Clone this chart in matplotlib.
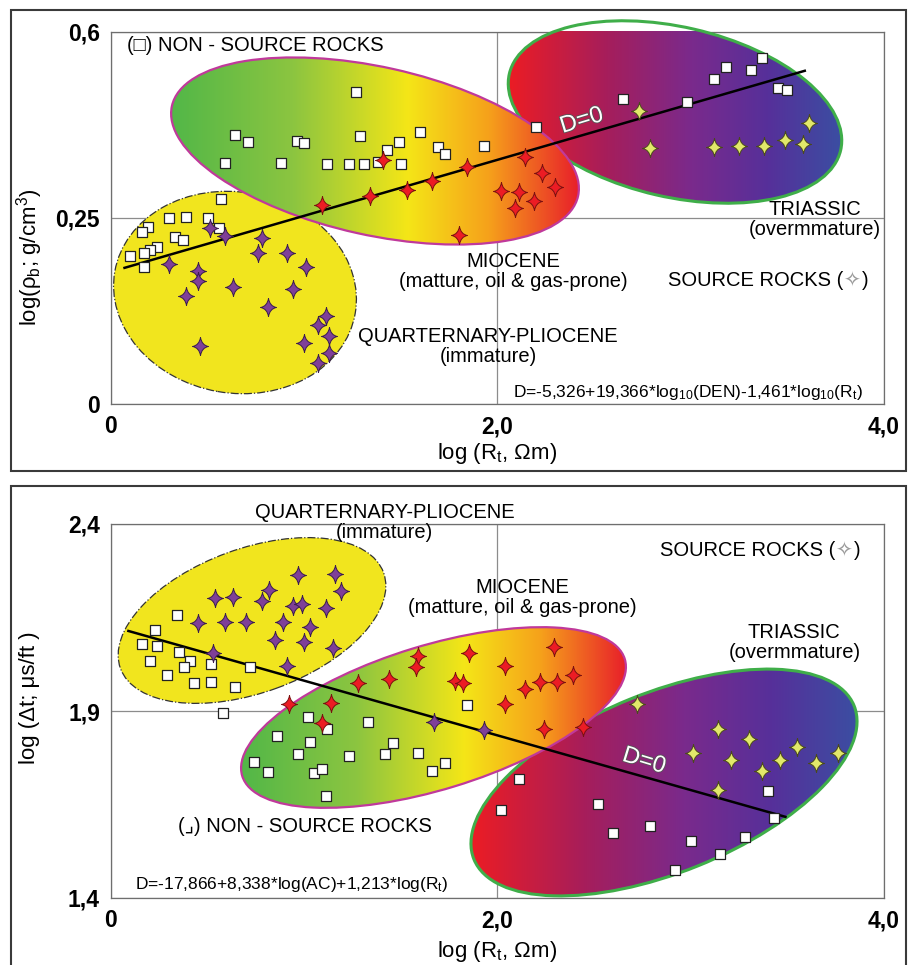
import numpy as np
import matplotlib
matplotlib.use("Agg")
import matplotlib.pyplot as plt
import matplotlib.patheffects as pe
from matplotlib.patches import Ellipse, Rectangle
from matplotlib.path import Path
from matplotlib.colors import LinearSegmentedColormap
from matplotlib.transforms import Affine2D

plt.rcParams['font.family'] = ['Liberation Sans', 'DejaVu Sans']
plt.rcParams['mathtext.fontset'] = 'custom'
plt.rcParams['mathtext.rm'] = 'Liberation Sans'
plt.rcParams['mathtext.it'] = 'Liberation Sans:italic'
plt.rcParams['mathtext.bf'] = 'Liberation Sans:bold'
plt.rcParams['mathtext.default'] = 'regular'

# ---- density crossplot: log(Rt) vs log(rho_b) ----
den_qp_star_x = [0.51, 0.59, 0.78, 0.76, 0.91, 1.01, 0.30, 0.45, 0.45, 0.39, 0.63, 0.94, 0.81, 1.11, 1.07, 1.13, 1.00, 1.13, 1.07, 0.46]
den_qp_star_y = [0.237, 0.226, 0.223, 0.203, 0.203, 0.184, 0.188, 0.179, 0.165, 0.145, 0.157, 0.155, 0.130, 0.118, 0.106, 0.091, 0.082, 0.069, 0.055, 0.078]
den_qp_sq_x = [0.57, 0.30, 0.39, 0.50, 0.19, 0.16, 0.33, 0.37, 0.56, 0.24, 0.20, 0.17, 0.10, 0.17]
den_qp_sq_y = [0.286, 0.250, 0.252, 0.250, 0.238, 0.231, 0.225, 0.220, 0.237, 0.211, 0.207, 0.203, 0.199, 0.184]
den_mio_star_x = [1.41, 1.09, 1.34, 1.53, 1.66, 1.84, 1.80, 2.02, 2.09, 2.14, 2.23, 2.30, 2.11, 2.19]
den_mio_star_y = [0.359, 0.275, 0.291, 0.303, 0.320, 0.346, 0.227, 0.301, 0.269, 0.365, 0.335, 0.308, 0.299, 0.282]
den_mio_sq_x = [1.27, 0.64, 0.71, 0.96, 1.00, 1.29, 1.60, 1.49, 1.43, 1.69, 1.73, 1.93, 0.59, 0.88, 1.12, 1.23, 1.31, 1.38, 1.50]
den_mio_sq_y = [0.487, 0.406, 0.393, 0.395, 0.391, 0.404, 0.412, 0.393, 0.378, 0.384, 0.370, 0.386, 0.354, 0.354, 0.352, 0.352, 0.352, 0.355, 0.352]
den_tri_star_x = [2.73, 2.79, 3.12, 3.25, 3.38, 3.49, 3.58, 3.61]
den_tri_star_y = [0.452, 0.381, 0.384, 0.386, 0.386, 0.397, 0.389, 0.429]
den_tri_sq_x = [2.20, 2.65, 2.98, 3.12, 3.18, 3.31, 3.37, 3.45, 3.50]
den_tri_sq_y = [0.421, 0.474, 0.468, 0.512, 0.534, 0.529, 0.551, 0.495, 0.491]
den_d0_x = [0.07, 3.59]
den_d0_y = [0.183, 0.527]

# ---- sonic crossplot: log(Rt) vs log(dt) ----
son_qp_star_x = [0.97, 1.16, 1.19, 0.54, 0.63, 0.82, 0.78, 0.94, 0.99, 1.11, 0.45, 0.59, 0.70, 0.89, 1.03, 0.85, 1.00, 1.15, 0.53, 0.91, 1.67, 1.93]
son_qp_star_y = [2.264, 2.266, 2.221, 2.202, 2.205, 2.224, 2.194, 2.181, 2.186, 2.175, 2.135, 2.138, 2.138, 2.138, 2.125, 2.090, 2.084, 2.068, 2.055, 2.020, 1.871, 1.849]
son_qp_sq_x = [0.34, 0.23, 0.16, 0.24, 0.35, 0.20, 0.41, 0.38, 0.52, 0.72, 0.29, 0.43, 0.52, 0.64, 0.58]
son_qp_sq_y = [2.157, 2.117, 2.079, 2.074, 2.058, 2.034, 2.034, 2.018, 2.026, 2.018, 1.996, 1.975, 1.978, 1.964, 1.895]
son_mio_star_x = [1.59, 1.58, 1.85, 2.04, 1.28, 1.44, 1.78, 1.82, 2.04, 0.92, 1.14, 1.09, 2.29, 2.39, 2.22, 2.31, 2.14, 2.24, 2.44]
son_mio_star_y = [2.047, 2.018, 2.055, 2.020, 1.975, 1.986, 1.980, 1.975, 1.919, 1.919, 1.921, 1.868, 2.071, 1.996, 1.978, 1.978, 1.959, 1.852, 1.857]
son_mio_sq_x = [1.02, 1.12, 1.33, 0.86, 1.03, 0.97, 1.23, 1.42, 1.46, 1.59, 1.73, 1.66, 0.74, 0.81, 1.05, 1.09, 1.11, 1.84]
son_mio_sq_y = [1.884, 1.852, 1.871, 1.833, 1.817, 1.785, 1.780, 1.785, 1.814, 1.788, 1.761, 1.740, 1.764, 1.737, 1.734, 1.745, 1.673, 1.916]
son_tri_star_x = [2.72, 3.14, 3.30, 3.01, 3.21, 3.37, 3.46, 3.55, 3.65, 3.76, 3.14]
son_tri_star_y = [1.919, 1.852, 1.825, 1.788, 1.769, 1.740, 1.769, 1.804, 1.761, 1.788, 1.689]
son_tri_sq_x = [2.11, 2.02, 2.52, 2.60, 2.79, 3.00, 3.15, 2.92, 3.28, 3.40, 3.43]
son_tri_sq_y = [1.718, 1.635, 1.651, 1.574, 1.593, 1.552, 1.518, 1.475, 1.563, 1.686, 1.614]
son_d0_x = [0.09, 3.49]
son_d0_y = [2.114, 1.617]

# four-pointed star with concave sides
c = 0.16
star_verts = [(0, 1.15), (c, c), (1, 0), (c, -c), (0, -1.15), (-c, -c), (-1, 0), (-c, c), (0, 1.15), (0, 0)]
star_codes = [Path.MOVETO] + [Path.CURVE3] * 8 + [Path.CLOSEPOLY]
STAR = Path(star_verts, star_codes)

mio_cmap = LinearSegmentedColormap.from_list(
    'mio', [(0, '#52b748'), (0.3, '#8cc540'), (0.58, '#f4e617'), (0.78, '#f6a11b'), (1, '#e8202a')])
tri_cmap = LinearSegmentedColormap.from_list(
    'tri', [(0, '#ec1c24'), (0.3, '#a51e5c'), (0.55, '#7a2a8c'), (0.78, '#56309a'), (1, '#3b4ea2')])

W, H = 912, 965
fig = plt.figure(figsize=(W / 100, H / 100), dpi=100)


def panel_axes(l, t, r, b):
    ax = fig.add_axes([l / W, 1 - b / H, (r - l) / W, (b - t) / H])
    # ellipses are laid out in pixel units measured from the lower-left corner
    tr = Affine2D().scale(1 / (r - l), 1 / (b - t)) + ax.transAxes
    return ax, tr


def region(ax, tr, cx, cy, w, h, ang, z, face=None, cmap=None, edge='k', lw=1.5, ls='-'):
    ell = Ellipse((cx, cy), w, h, angle=ang, transform=tr, facecolor=face or 'none',
                  edgecolor=edge, lw=lw, ls=ls, zorder=z + 0.05, clip_on=False)
    ax.add_patch(ell)
    if cmap is not None:
        t = np.deg2rad(ang)
        hw = np.hypot(w / 2 * np.cos(t), h / 2 * np.sin(t))
        hh = np.hypot(w / 2 * np.sin(t), h / 2 * np.cos(t))
        im = ax.imshow(np.linspace(0, 1, 256)[None, :], cmap=cmap, aspect='auto',
                       extent=(cx - hw, cx + hw, cy - hh, cy + hh), transform=tr,
                       interpolation='bilinear', zorder=z)
        im.set_clip_path(ell)
        im.set_clip_box(None)


def points(ax, xs, ys, kind):
    if kind == 'sq':
        ax.scatter(xs, ys, marker='s', s=52, facecolor='white', edgecolor='#222222', lw=0.9, zorder=5)
    else:
        face, edge = {'qp': ('#7f3f98', '#3a1c4e'), 'mio': ('#ec1c24', '#7a1010'),
                      'tri': ('#e2e86a', '#4a4a1a')}[kind]
        ax.scatter(xs, ys, marker=STAR, s=170, facecolor=face, edgecolor=edge, lw=0.7, zorder=5)


def style_axes(ax):
    ax.set_xlim(0, 4)
    ax.grid(True, color='#8c8c8c', lw=0.9)
    ax.tick_params(length=0, labelsize=16.5, pad=8)
    for s in ax.spines.values():
        s.set_color('#6e6e6e')
        s.set_linewidth(0.9)
    ax.set_xticks([0, 2, 4], ['0', '2,0', '4,0'], fontweight='bold')


def label(ax, x, y, s, size=14.5, **kw):
    ax.text(x, y, s, transform=ax.transAxes, fontsize=size, zorder=6, linespacing=1.05, **kw)


def source_label(ax, x, y):
    # black caption, hollow grey star symbol
    t = ax.text(x, y, 'SOURCE ROCKS (', transform=ax.transAxes, fontsize=14.5, zorder=6,
                ha='right', va='center')
    ax.annotate('✧', xycoords=t, xy=(1, 0.5), fontsize=14.5, color='#9a9a9a', va='center',
                ha='left', zorder=6)
    ax.annotate(')', xycoords=t, xy=(1, 0.5), xytext=(13.5, 0), textcoords='offset points',
                fontsize=14.5, va='center', ha='left', zorder=6)


def d0(ax, x, y, rot):
    ax.text(x, y, 'D=0', transform=ax.transAxes, fontsize=17, color='white', rotation=rot,
            ha='center', va='center', zorder=6,
            path_effects=[pe.withStroke(linewidth=1.2, foreground='#555555')])


# ---------------- upper panel ----------------
ax1, tr1 = panel_axes(111, 32, 884, 404)
knots_y = [-1, 0, 0.25, 0.6, 1.6]
knots_f = [-2, 0, 0.5, 1.0, 1 + 1.0 / 0.35 * 0.5]
ax1.set_yscale('function', functions=(lambda v: np.interp(v, knots_y, knots_f),
                                      lambda f: np.interp(f, knots_f, knots_y)))
style_axes(ax1)
ax1.set_ylim(0, 0.6)
ax1.set_yticks([0, 0.25, 0.6], ['0', '0,25', '0,6'], fontweight='bold')

region(ax1, tr1, 124, 111.5, 244, 201, -10, 3.0, face='#f1e51e', edge='#333333', lw=0.9, ls='-.')
region(ax1, tr1, 564, 292, 340, 170, -13, 3.1, cmap=tri_cmap, edge='#3fae49', lw=2.2)
region(ax1, tr1, 264, 253, 416, 168, -12.5, 3.2, cmap=mio_cmap, edge='#c0399b', lw=1.6)

ax1.plot(den_d0_x, den_d0_y, color='black', lw=1.8, zorder=4)
points(ax1, den_qp_sq_x, den_qp_sq_y, 'sq')
points(ax1, den_mio_sq_x, den_mio_sq_y, 'sq')
points(ax1, den_tri_sq_x, den_tri_sq_y, 'sq')
points(ax1, den_qp_star_x, den_qp_star_y, 'qp')
points(ax1, den_mio_star_x, den_mio_star_y, 'mio')
points(ax1, den_tri_star_x, den_tri_star_y, 'tri')

label(ax1, 0.021, 0.965, '(□) NON - SOURCE ROCKS', ha='left', va='center')
label(ax1, 0.911, 0.495, 'TRIASSIC\n(overmmature)', ha='center', va='center')
label(ax1, 0.521, 0.357, 'MIOCENE\n(matture, oil & gas-prone)', ha='center', va='center')
source_label(ax1, 0.947, 0.333)
label(ax1, 0.488, 0.155, 'QUARTERNARY-PLIOCENE\n(immature)', ha='center', va='center')
label(ax1, 0.973, 0.032, 'D=-5,326+19,366*log$_{10}$(DEN)-1,461*log$_{10}$(R$_t$)', size=12.5,
      ha='right', va='center')
d0(ax1, 0.609, 0.761, 17)

ax1.set_xlabel('log (R$_t$, Ωm)', fontsize=16)
ax1.xaxis.set_label_coords(0.5, -0.10)
ax1.set_ylabel('log(ρ$_b$; g/cm$^3$)', fontsize=16, va='center')
ax1.yaxis.set_label_coords(-0.105, 0.395)

# ---------------- lower panel ----------------
ax2, tr2 = panel_axes(111, 524, 884, 898)
style_axes(ax2)
ax2.set_ylim(1.4, 2.4)
ax2.set_yticks([1.4, 1.9, 2.4], ['1,4', '1,9', '2,4'], fontweight='bold')

region(ax2, tr2, 141, 277.5, 280, 144, 20, 3.0, face='#f1e51e', edge='#333333', lw=0.9, ls='-.')
region(ax2, tr2, 553, 115.5, 410, 180, 22, 3.1, cmap=tri_cmap, edge='#3fae49', lw=2.2)
region(ax2, tr2, 322.5, 180.5, 400, 144, 17, 3.2, cmap=mio_cmap, edge='#c0399b', lw=1.6)

ax2.plot(son_d0_x, son_d0_y, color='black', lw=1.8, zorder=4)
points(ax2, son_qp_sq_x, son_qp_sq_y, 'sq')
points(ax2, son_mio_sq_x, son_mio_sq_y, 'sq')
points(ax2, son_tri_sq_x, son_tri_sq_y, 'sq')
points(ax2, son_qp_star_x, son_qp_star_y, 'qp')
points(ax2, son_mio_star_x, son_mio_star_y, 'mio')
points(ax2, son_tri_star_x, son_tri_star_y, 'tri')

label(ax2, 0.354, 1.004, 'QUARTERNARY-PLIOCENE\n(immature)', ha='center', va='center')
source_label(ax2, 0.937, 0.930)
label(ax2, 0.532, 0.803, 'MIOCENE\n(matture, oil & gas-prone)', ha='center', va='center')
label(ax2, 0.884, 0.683, 'TRIASSIC\n(overmmature)', ha='center', va='center')
label(ax2, 0.087, 0.1925, '(⌟) NON - SOURCE ROCKS', ha='left', va='center')
label(ax2, 0.031, 0.035, 'D=-17,866+8,338*log(AC)+1,213*log(R$_t$)', size=12.5, ha='left', va='center')
d0(ax2, 0.6895, 0.366, -17)

ax2.set_xlabel('log (R$_t$, Ωm)', fontsize=16)
ax2.xaxis.set_label_coords(0.5, -0.11)
ax2.set_ylabel('log (Δt; μs/ft )', fontsize=16, va='center')
ax2.yaxis.set_label_coords(-0.105, 0.535)

# frames around the two panels
for top, bottom in [(10, 471), (486, 975)]:
    fig.add_artist(Rectangle((11 / W, 1 - bottom / H), 895 / W, (bottom - top) / H, fill=False,
                             ec='#3a3a3a', lw=1.5, transform=fig.transFigure))

fig.savefig('out.png', dpi=100)
